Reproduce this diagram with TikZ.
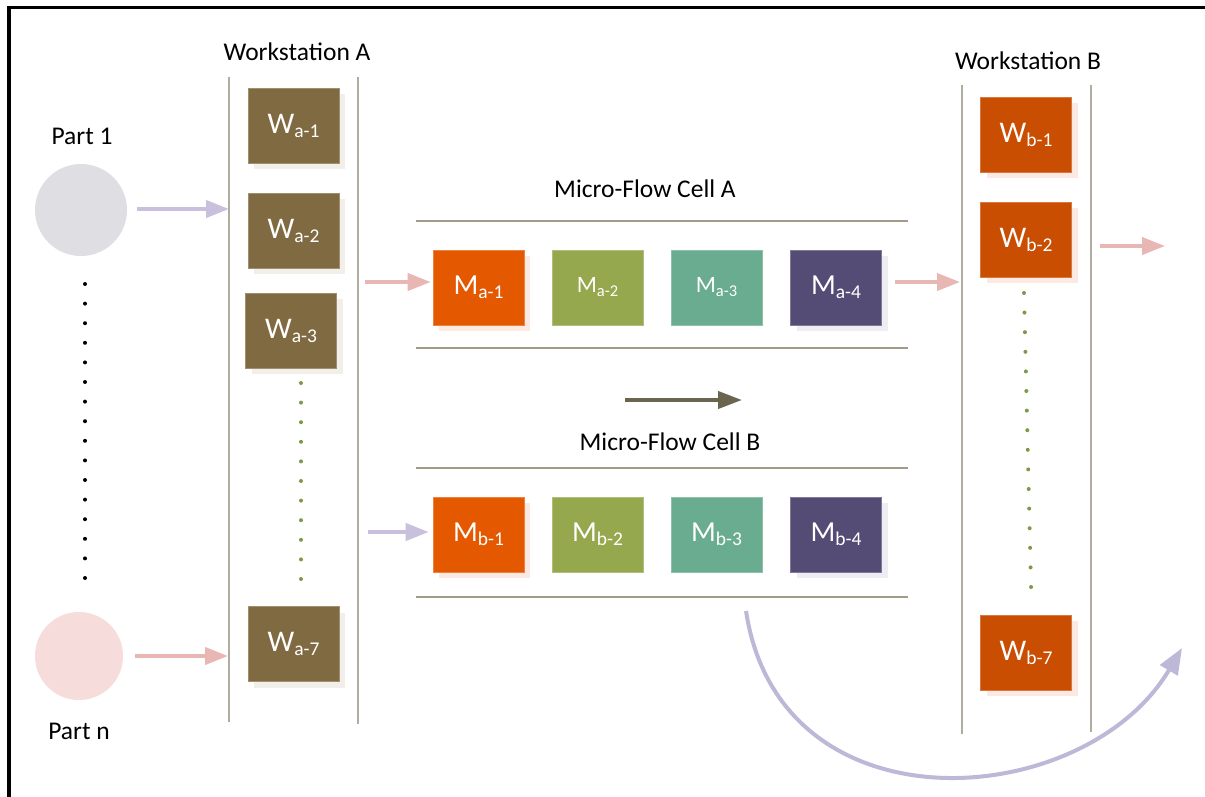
\documentclass[tikz,border=0pt]{standalone}
\usepackage{fontspec}
\setmainfont{Carlito}
\usetikzlibrary{arrows.meta,calc,shadows}

\definecolor{wacol}{HTML}{806A42}
\definecolor{wbcol}{HTML}{C94E02}
\definecolor{mone}{HTML}{E45800}
\definecolor{mtwo}{HTML}{95A84E}
\definecolor{mthree}{HTML}{69AC8F}
\definecolor{mfour}{HTML}{554C75}
\definecolor{partone}{HTML}{DFDEE3}
\definecolor{partn}{HTML}{F6DCDA}
\definecolor{lavender}{HTML}{C8C0DC}
\definecolor{curvecol}{HTML}{BDB8D7}
\definecolor{pinkarrow}{HTML}{E8B6B3}
\definecolor{darkarrow}{HTML}{6B6550}
\definecolor{greendot}{HTML}{7D9A45}
\definecolor{wsline}{HTML}{B0ACA0}
\definecolor{cellline}{HTML}{A09C88}
\definecolor{shadebeige}{HTML}{F2EEEA}
\definecolor{shadepeach}{HTML}{FCEAE2}
\definecolor{shadelilac}{HTML}{EEEDF4}

\newcommand\boxlabel[4]{{\fontsize{#3}{#3}\selectfont #1}{\fontsize{#4}{#4}\selectfont\raisebox{-4pt}{#2}}}

\tikzset{
  unitbox/.style={minimum width=91pt, minimum height=75pt, inner sep=0pt,
    text=white, fill=#1, draw=#1!75!white, line width=0.6pt},
  shade/.style={drop shadow={shadow xshift=6pt, shadow yshift=-6pt,
    fill=#1, opacity=1}},
  title/.style={inner sep=0pt, font=\fontsize{25.5}{26}\selectfont},
  part/.style={circle, inner sep=0pt, fill=#1},
  wsrule/.style={draw=wsline, line width=1.5pt},
  cellrule/.style={draw=cellline, line width=1.5pt},
  flowP/.style={draw=lavender, line width=4pt, -{Triangle[length=23pt,width=17pt]}},
  flowR/.style={draw=pinkarrow, line width=4pt, -{Triangle[length=23pt,width=17pt]}},
  dir/.style={draw=darkarrow, line width=4pt, -{Triangle[length=24pt,width=17pt]}},
  back/.style={draw=curvecol, line width=4pt, -{Triangle[length=26pt,width=20pt]}},
  blackdot/.style={fill=black, circle, inner sep=0pt, minimum size=4pt},
  greendotn/.style={fill=greendot, circle, inner sep=0pt, minimum size=4pt},
}

\begin{document}
\begin{tikzpicture}[x=1pt, y=-1pt]
\useasboundingbox (0,0) rectangle (1205,796);
\fill[white] (0,0) rectangle (1205,796);
% outer frame
\begin{scope}
\clip (0,0) rectangle (1205,796);
\draw[line width=3.5pt] (9,7.5) rectangle (1215,810);
\end{scope}

% parts
\node[part=partone, minimum size=92pt] (p1) at (81,210) {};
\node[part=partn, minimum size=88pt] (pn) at (79,656) {};
\node[title] (p1lbl) at (82,136) {Part 1};
\node[title] (pnlbl) at (79,731) {Part n};
\foreach \i in {0,...,15}
  \node[blackdot] (bd\i) at (85,{284+19.6*\i}) {};

% workstation A
\node[title] (wsAlbl) at (297,52) {Workstation A};
\coordinate (wsAtl) at (229,77);
\coordinate (wsAbl) at (229,722);
\coordinate (wsAtr) at (358,77);
\coordinate (wsAbr) at (358,724);
\draw[wsrule] (wsAtl) -- (wsAbl);
\draw[wsrule] (wsAtr) -- (wsAbr);
\node[unitbox=wacol, shade=shadebeige] (wa1) at (293.5,125.5) {\boxlabel{W}{a-1}{30}{19.5}};
\node[unitbox=wacol, shade=shadebeige] (wa2) at (293.5,230.5) {\boxlabel{W}{a-2}{30}{19.5}};
\node[unitbox=wacol, shade=shadebeige] (wa3) at (291,330.5) {\boxlabel{W}{a-3}{30}{19.5}};
\node[unitbox=wacol, shade=shadebeige] (wa7) at (293.5,644) {\boxlabel{W}{a-7}{30}{19.5}};
\foreach \i in {0,...,10}
  \node[greendotn] (ga\i) at (301,{383+19.6*\i}) {};

% workstation B
\node[title] (wsBlbl) at (1028,61) {Workstation B};
\coordinate (wsBtl) at (962,85);
\coordinate (wsBbl) at (962,734);
\coordinate (wsBtr) at (1091,85);
\coordinate (wsBbr) at (1091,732);
\draw[wsrule] (wsBtl) -- (wsBbl);
\draw[wsrule] (wsBtr) -- (wsBbr);
\node[unitbox=wbcol, shade=shadepeach] (wb1) at (1026,134.5) {\boxlabel{W}{b-1}{30}{19.5}};
\node[unitbox=wbcol, shade=shadepeach] (wb2) at (1026,239.5) {\boxlabel{W}{b-2}{30}{19.5}};
\node[unitbox=wbcol, shade=shadepeach] (wb7) at (1026,652.5) {\boxlabel{W}{b-7}{30}{19.5}};
\foreach \i in {0,...,15}
  \node[greendotn] (gb\i) at ({1024+0.47*\i},{293+19.6*\i}) {};

% micro-flow cell A
\node[title] (cAlbl) at (645,189) {Micro-Flow Cell A};
\coordinate (cAt1) at (416,221);
\coordinate (cAt2) at (908,221);
\coordinate (cAb1) at (416,348);
\coordinate (cAb2) at (908,348);
\draw[cellrule] (cAt1) -- (cAt2);
\draw[cellrule] (cAb1) -- (cAb2);
\node[unitbox=mone, shade=shadepeach] (ma1) at (478.5,287.5) {\boxlabel{M}{a-1}{29}{19.5}};
\node[unitbox=mtwo] (ma2) at (597.5,287.5) {\boxlabel{M}{a-2}{23.5}{16.5}};
\node[unitbox=mthree] (ma3) at (716.5,287.5) {\boxlabel{M}{a-3}{23.5}{16.5}};
\node[unitbox=mfour, shade=shadelilac] (ma4) at (836,287.5) {\boxlabel{M}{a-4}{29}{19.5}};

% direction of flow
\coordinate (dirS) at (625,400);
\coordinate (dirE) at (742,400);
\draw[dir] (dirS) -- (dirE);

% micro-flow cell B
\node[title] (cBlbl) at (670,442) {Micro-Flow Cell B};
\coordinate (cBt1) at (416,468);
\coordinate (cBt2) at (908,468);
\coordinate (cBb1) at (416,597);
\coordinate (cBb2) at (908,597);
\draw[cellrule] (cBt1) -- (cBt2);
\draw[cellrule] (cBb1) -- (cBb2);
\node[unitbox=mone, shade=shadepeach] (mb1) at (478.5,534.5) {\boxlabel{M}{b-1}{29}{19.5}};
\node[unitbox=mtwo] (mb2) at (597.5,534.5) {\boxlabel{M}{b-2}{29}{19.5}};
\node[unitbox=mthree] (mb3) at (716.5,534.5) {\boxlabel{M}{b-3}{29}{19.5}};
\node[unitbox=mfour, shade=shadelilac] (mb4) at (836,534.5) {\boxlabel{M}{b-4}{29}{19.5}};

% flow arrows
\draw[flowP] ([xshift=10pt,yshift=1pt]p1.east) -- ([yshift=1pt]p1.east -| wsAtl);
\draw[flowR] ([xshift=12pt]pn.east) -- ([xshift=-1pt]pn.east -| wsAtl);
\draw[flowR] ([yshift=5.5pt]ma1.west -| wsAtr) ++(7,0) -- ([xshift=-2pt,yshift=5.5pt]ma1.west);
\draw[flowP] ([yshift=2.5pt]mb1.west -| wsAtr) ++(10,0) -- ([xshift=-4pt,yshift=2.5pt]mb1.west);
\draw[flowR] ([xshift=13pt,yshift=5.5pt]ma4.east) -- ([xshift=-2pt,yshift=5.5pt]ma4.east -| wsBtl);
\draw[flowR] ([yshift=-6.5pt]wb2.east -| wsBtr) ++(9,0) -- ++(65,0) coordinate (outB);

% return path
\coordinate (retS) at (746,611);
\coordinate (retE) at (1182,648);
\draw[back] (retS) .. controls (780,835) and (1085,812) .. (retE);
\end{tikzpicture}
\end{document}
